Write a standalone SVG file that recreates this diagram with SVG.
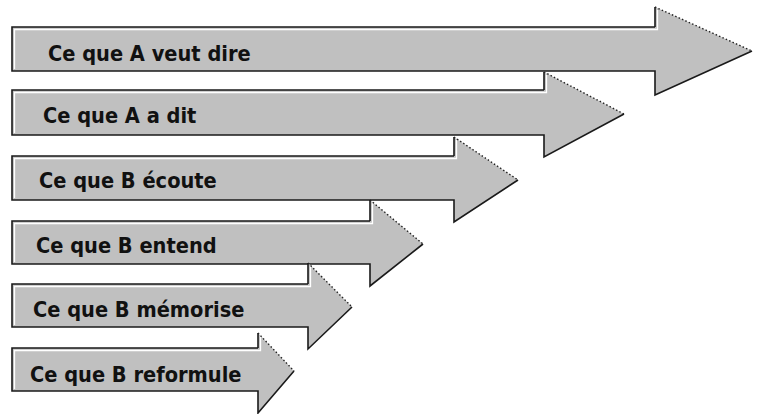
<svg xmlns="http://www.w3.org/2000/svg" width="758" height="414" viewBox="0 0 758 414">
<style>
.fill{fill:#c0c0c0;stroke:none}
.edge{fill:none;stroke:#1a1a1a;stroke-width:1.6;stroke-linejoin:miter}
.dots{fill:none;stroke:#222;stroke-width:1.4;stroke-dasharray:1.5 2.2}
.hl{fill:none;stroke:#ffffff;stroke-width:1.3}
.lbl{font-family:"DejaVu Sans Condensed","DejaVu Sans",sans-serif;font-stretch:condensed;font-weight:bold;font-size:21.6px;fill:#111}
</style>
<rect width="758" height="414" fill="#ffffff"/>
<g id="arrow1">
<polygon class="fill" points="12,27 655,27 655,7 752,51 655,95 655,71 12,71"/>
<path class="hl" d="M14.5,69 L14.5,29.5 L657.5,29.5 L657.5,10"/>
<path class="edge" d="M655,27 L655,7 M655,27 L12,27 L12,71 L655,71 L655,95 L752,51"/>
<path class="dots" d="M655,7 L752,51"/>
<text class="lbl" x="48" y="61">Ce que A veut dire</text>
</g>
<g id="arrow2">
<polygon class="fill" points="12,90 544,90 544,72 624,114 544,157 544,135 12,135"/>
<path class="hl" d="M14.5,133 L14.5,92.5 L546.5,92.5 L546.5,75"/>
<path class="edge" d="M544,90 L544,72 M544,90 L12,90 L12,135 L544,135 L544,157 L624,114"/>
<path class="dots" d="M544,72 L624,114"/>
<text class="lbl" x="43" y="123">Ce que A a dit</text>
</g>
<g id="arrow3">
<polygon class="fill" points="12,156 454,156 454,137 518,180 454,222 454,200 12,200"/>
<path class="hl" d="M14.5,198 L14.5,158.5 L456.5,158.5 L456.5,140"/>
<path class="edge" d="M454,156 L454,137 M454,156 L12,156 L12,200 L454,200 L454,222 L518,180"/>
<path class="dots" d="M454,137 L518,180"/>
<text class="lbl" x="39" y="188">Ce que B écoute</text>
</g>
<g id="arrow4">
<polygon class="fill" points="12,221 370,221 370,200 423,244 370,286 370,264 12,264"/>
<path class="hl" d="M14.5,262 L14.5,223.5 L372.5,223.5 L372.5,203"/>
<path class="edge" d="M370,221 L370,200 M370,221 L12,221 L12,264 L370,264 L370,286 L423,244"/>
<path class="dots" d="M370,200 L423,244"/>
<text class="lbl" x="36" y="253">Ce que B entend</text>
</g>
<g id="arrow5">
<polygon class="fill" points="12,284 308,284 308,263 352,307 308,349 308,327 12,327"/>
<path class="hl" d="M14.5,325 L14.5,286.5 L310.5,286.5 L310.5,266"/>
<path class="edge" d="M308,284 L308,263 M308,284 L12,284 L12,327 L308,327 L308,349 L352,307"/>
<path class="dots" d="M308,263 L352,307"/>
<text class="lbl" x="33" y="317">Ce que B mémorise</text>
</g>
<g id="arrow6">
<polygon class="fill" points="12,348 258,348 258,333 294,371 258,413 258,391 12,391"/>
<path class="hl" d="M14.5,389 L14.5,350.5 L260.5,350.5 L260.5,336"/>
<path class="edge" d="M258,348 L258,333 M258,348 L12,348 L12,391 L258,391 L258,413 L294,371"/>
<path class="dots" d="M258,333 L294,371"/>
<text class="lbl" x="30" y="382">Ce que B reformule</text>
</g>
</svg>
